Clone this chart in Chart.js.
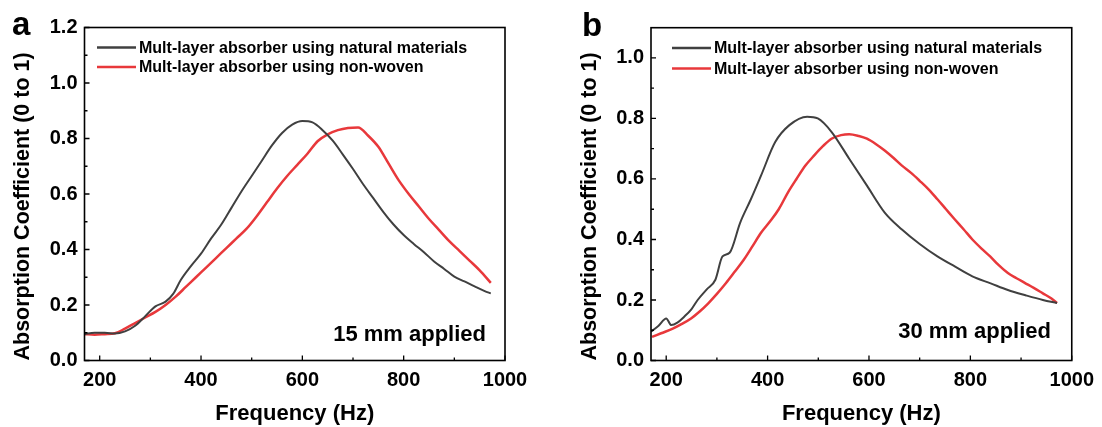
<!DOCTYPE html>
<html>
<head>
<meta charset="utf-8">
<script src="https://cdn.jsdelivr.net/npm/chart.js@4.4.1/dist/chart.umd.min.js"></script>
<style>
  body { margin: 0; background: #fff; }
  .panel { position: absolute; top: 0; width: 551px; height: 427px; }
</style>
</head>
<body>
<div class="panel" style="left:0"><canvas id="chartA" width="551" height="427"></canvas></div>
<div class="panel" style="left:551px"><canvas id="chartB" width="551" height="427"></canvas></div>
<script>
// ---- data ----
const seriesLabels = ['Mult-layer absorber using natural materials', 'Mult-layer absorber using non-woven']

// panel a, 15 mm applied
const freqNatA = [170, 190, 210, 230, 250, 270, 290, 310, 330, 345, 360, 380, 400, 420, 440, 460, 480, 500, 520, 540, 560, 580, 600, 620, 640, 660, 680, 700, 720, 740, 760, 780, 800, 820, 840, 860, 880, 900, 920, 940, 960, 972]
const natA = [0.095, 0.10, 0.10, 0.097, 0.105, 0.125, 0.16, 0.195, 0.212, 0.24, 0.29, 0.34, 0.385, 0.44, 0.49, 0.55, 0.61, 0.665, 0.72, 0.775, 0.82, 0.85, 0.863, 0.858, 0.83, 0.792, 0.742, 0.69, 0.635, 0.585, 0.535, 0.49, 0.452, 0.42, 0.39, 0.357, 0.33, 0.302, 0.285, 0.267, 0.25, 0.242]
const freqNonA = [170, 190, 210, 230, 250, 270, 290, 310, 330, 350, 370, 390, 410, 430, 450, 470, 490, 510, 530, 550, 570, 590, 610, 630, 650, 670, 690, 710, 730, 750, 770, 790, 810, 830, 850, 870, 890, 910, 930, 950, 972]
const nonA = [0.095, 0.093, 0.095, 0.098, 0.115, 0.135, 0.155, 0.175, 0.20, 0.23, 0.265, 0.30, 0.335, 0.37, 0.405, 0.44, 0.475, 0.52, 0.57, 0.62, 0.665, 0.705, 0.745, 0.79, 0.815, 0.83, 0.838, 0.84, 0.81, 0.77, 0.71, 0.65, 0.60, 0.555, 0.51, 0.47, 0.43, 0.395, 0.36, 0.325, 0.28]

// panel b, 30 mm applied
const freqNatB = [170, 185, 200, 210, 222, 235, 250, 262, 280, 297, 311, 325, 346, 367, 387, 415, 443, 478, 499, 526, 561, 596, 631, 665, 700, 735, 770, 804, 840, 874, 910, 943, 971]
const natB = [0.095, 0.115, 0.139, 0.117, 0.125, 0.144, 0.17, 0.20, 0.235, 0.267, 0.344, 0.356, 0.456, 0.533, 0.611, 0.722, 0.778, 0.806, 0.80, 0.756, 0.667, 0.578, 0.489, 0.433, 0.385, 0.344, 0.31, 0.278, 0.255, 0.233, 0.215, 0.20, 0.19]
const freqNonB = [172, 190, 214, 230, 249, 266, 283, 300, 318, 335, 353, 370, 387, 405, 422, 440, 457, 475, 492, 510, 526, 545, 561, 580, 596, 614, 631, 648, 665, 683, 700, 718, 735, 752, 769, 787, 804, 822, 839, 856, 874, 891, 908, 925, 943, 960, 971]
const nonB = [0.078, 0.09, 0.106, 0.12, 0.139, 0.162, 0.189, 0.22, 0.256, 0.293, 0.333, 0.377, 0.422, 0.46, 0.50, 0.555, 0.60, 0.645, 0.678, 0.71, 0.733, 0.745, 0.748, 0.742, 0.733, 0.715, 0.694, 0.67, 0.644, 0.62, 0.594, 0.565, 0.533, 0.50, 0.467, 0.433, 0.40, 0.37, 0.344, 0.315, 0.289, 0.272, 0.256, 0.24, 0.222, 0.205, 0.19]

// axes
const xTicks = [200, 400, 600, 800, 1000]
const xMinor = [300, 500, 700, 900]
const yTicksA = [0.0, 0.2, 0.4, 0.6, 0.8, 1.0, 1.2]
const yMinorA = [0.1, 0.3, 0.5, 0.7, 0.9, 1.1]
const yTicksB = [0.0, 0.2, 0.4, 0.6, 0.8, 1.0]
const yMinorB = [0.1, 0.3, 0.5, 0.7, 0.9]

const black = '#404040'
const red = '#e8383b'
const fontFamily = '"Liberation Sans", Arial, sans-serif'

const toPoints = (xs, ys) => xs.map((v, i) => ({ x: v, y: ys[i] }))

// frame, inward ticks, legend, panel letter and note
const decorPlugin = {
    id: 'decor',
    afterDraw(chart) {
        const { ctx, chartArea: a, scales: { x, y } } = chart
        const o = chart.options.plugins.decor
        ctx.save()
        ctx.strokeStyle = '#000'
        ctx.lineWidth = 1.6
        ctx.strokeRect(a.left, a.top, a.right - a.left, a.bottom - a.top)
        ctx.lineWidth = 1.3
        ctx.beginPath()
        xTicks.forEach(v => { const px = x.getPixelForValue(v); ctx.moveTo(px, a.bottom); ctx.lineTo(px, a.bottom - 5) })
        xMinor.forEach(v => { const px = x.getPixelForValue(v); ctx.moveTo(px, a.bottom); ctx.lineTo(px, a.bottom - 3) })
        o.yTicks.forEach(v => { const py = y.getPixelForValue(v); ctx.moveTo(a.left, py); ctx.lineTo(a.left + 5, py) })
        o.yMinor.forEach(v => { const py = y.getPixelForValue(v); ctx.moveTo(a.left, py); ctx.lineTo(a.left + 3, py) })
        ctx.stroke()

        // legend
        ctx.font = 'bold 16px ' + fontFamily
        ctx.textBaseline = 'middle'
        ctx.textAlign = 'left'
        chart.data.datasets.forEach((ds, i) => {
            const ly = o.legendY[i]
            ctx.strokeStyle = ds.borderColor
            ctx.lineWidth = 2.5
            ctx.beginPath()
            ctx.moveTo(o.legendX, ly)
            ctx.lineTo(o.legendX + 39, ly)
            ctx.stroke()
            ctx.fillStyle = '#000'
            ctx.fillText(ds.label, o.legendX + 42, ly + 1)
        })

        // note
        ctx.font = 'bold 22px ' + fontFamily
        ctx.textAlign = 'right'
        ctx.fillText(o.note, o.noteX, o.noteY)

        // panel letter
        ctx.font = 'bold 33px ' + fontFamily
        ctx.textAlign = 'left'
        ctx.textBaseline = 'alphabetic'
        ctx.fillText(o.letter, o.letterX, o.letterY)
        ctx.restore()
    }
}

const makeChart = (id, natX, natY, nonX, nonY, yMax, yTicks, yMinor, decor, area) => {
    return new Chart(document.getElementById(id), {
        type: 'line',
        data: {
            datasets: [
                { label: seriesLabels[0], data: toPoints(natX, natY), borderColor: black, borderWidth: 2, pointRadius: 0, cubicInterpolationMode: 'monotone' },
                { label: seriesLabels[1], data: toPoints(nonX, nonY), borderColor: red, borderWidth: 2.5, pointRadius: 0, cubicInterpolationMode: 'monotone' },
            ]
        },
        options: {
            responsive: false,
            animation: false,
            events: [],
            layout: { padding: { left: 0, top: area.top, right: area.right, bottom: 0 } },
            plugins: { legend: { display: false }, tooltip: { enabled: false }, decor: decor },
            scales: {
                x: {
                    type: 'linear', min: 170, max: 1000,
                    afterBuildTicks: s => { s.ticks = xTicks.map(v => ({ value: v })) },
                    afterFit: s => { s.height = area.bottomH },
                    grid: { display: false, drawTicks: false },
                    border: { display: false },
                    ticks: { color: '#000', padding: 8, maxRotation: 0, callback: v => String(v), font: { family: fontFamily, size: 20, weight: 'bold' } },
                    title: { display: true, text: 'Frequency (Hz)', color: '#000', padding: { top: 0, bottom: 2 }, font: { family: fontFamily, size: 22, weight: 'bold', lineHeight: 1 } }
                },
                y: {
                    type: 'linear', min: 0, max: yMax,
                    afterBuildTicks: s => { s.ticks = yTicks.map(v => ({ value: v })) },
                    afterFit: s => { s.width = area.left },
                    grid: { display: false, drawTicks: false },
                    border: { display: false },
                    ticks: { color: '#000', padding: 7, callback: v => v.toFixed(1), font: { family: fontFamily, size: 20, weight: 'bold' } },
                    title: { display: true, align: 'start', text: 'Absorption Coefficient (0 to 1)', color: '#000', padding: { top: area.titlePad, bottom: 0 }, font: { family: fontFamily, size: 21.5, weight: 'bold', lineHeight: 1 } }
                }
            }
        },
        plugins: [decorPlugin]
    })
}

const chartA = makeChart('chartA', freqNatA, natA, freqNonA, nonA, 1.2, yTicksA, yMinorA,
    { yTicks: yTicksA, yMinor: yMinorA, legendX: 97, legendY: [47.5, 67], note: '15 mm applied', noteX: 486, noteY: 335, letter: 'a', letterX: 12, letterY: 35 },
    { left: 84.5, top: 27.5, right: 46, bottomH: 66.5, titlePad: 12 })

const chartB = makeChart('chartB', freqNatB, natB, freqNonB, nonB, 1.1, yTicksB, yMinorB,
    { yTicks: yTicksB, yMinor: yMinorB, legendX: 121, legendY: [48, 68.5], note: '30 mm applied', noteX: 500, noteY: 332, letter: 'b', letterX: 31, letterY: 36 },
    { left: 100, top: 27.7, right: 30, bottomH: 66.5, titlePad: 28 })
</script>
</body>
</html>
